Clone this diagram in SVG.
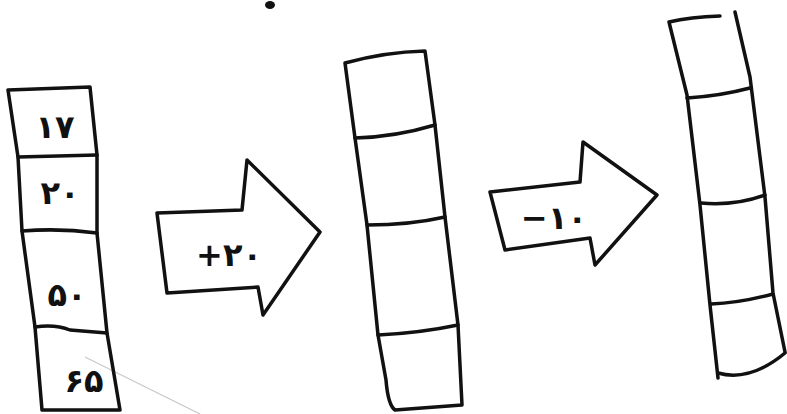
<svg xmlns="http://www.w3.org/2000/svg" width="787" height="414" viewBox="0 0 787 414">
<style>
.ln{fill:none;stroke:#111;stroke-width:3.5;stroke-linecap:round;stroke-linejoin:round}
.ar{fill:#fff;stroke:#111;stroke-width:3.5;stroke-linejoin:round}
.t{font-family:"DejaVu Sans","Noto Sans",sans-serif;font-size:32px;font-weight:bold;fill:#111;text-anchor:middle}
</style>
<rect width="787" height="414" fill="#fff"/>
<ellipse cx="270" cy="5" rx="5" ry="4" fill="#111"/>
<line x1="85" y1="357" x2="200" y2="414" stroke="#c8c8c8" stroke-width="1.2"/>
<g id="column1">
<path class="ln" d="M8,90 L90,87 L97,155 L97,233 L107,333 L120,410 L42,410 L35,327 L22,231 L18,157 Z"/>
<path class="ln" d="M18,157 L97,155"/>
<path class="ln" d="M22,231 Q60,228 97,233"/>
<path class="ln" d="M35,327 Q55,324 70,330 L107,333"/>
<text class="t" x="55" y="138">۱۷</text>
<text class="t" x="60" y="204">۲۰</text>
<text class="t" x="67" y="306">۵۰</text>
<text class="t" x="84" y="392">۶۵</text>
</g>
<g id="arrow1">
<path class="ar" d="M157,213 L242,210 L247,160 L320,232 L263,315 L258,287 L167,293 Z"/>
<text class="t" x="229" y="266" font-size="38">+۲۰</text>
</g>
<g id="column2">
<path class="ln" d="M345,63 Q385,52 425,51 L435,125 L445,217 L458,325 L462,405 L395,410 Q388,405 386,380 L378,335 L367,225 L355,138 Z"/>
<path class="ln" d="M355,138 Q395,137 435,125"/>
<path class="ln" d="M367,225 Q410,225 445,217"/>
<path class="ln" d="M378,335 Q420,333 458,325"/>
</g>
<g id="arrow2">
<path class="ar" d="M490,192 L580,182 L583,142 L657,195 L595,265 L590,238 L505,250 Z"/>
<text class="t" x="554" y="229" font-size="34">−۱۰</text>
</g>
<g id="column3">
<path class="ln" d="M720,16 Q690,17 669,22 L687,95 L700,205 L710,305 L718,378"/>
<path class="ln" d="M735,12 L750,77 L765,197 L773,293 L785,352"/>
<path class="ln" d="M687,98 Q720,96 750,88"/>
<path class="ln" d="M701,203 Q735,206 765,195"/>
<path class="ln" d="M711,304 Q740,303 773,294"/>
<path class="ln" d="M718,373 Q750,382 785,353"/>
</g>
</svg>
